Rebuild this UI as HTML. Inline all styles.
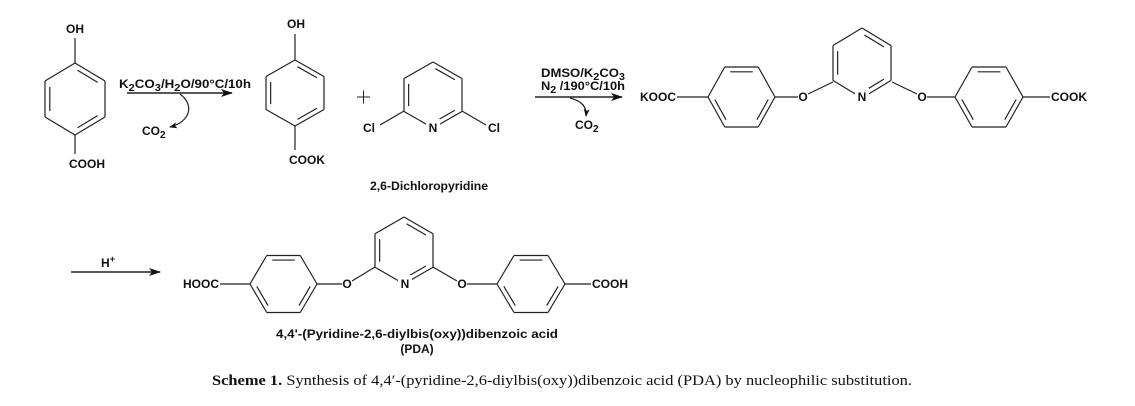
<!DOCTYPE html>
<html><head><meta charset="utf-8"><style>
html,body{margin:0;padding:0;background:#fff;}
svg{display:block;}
text{font-family:"Liberation Sans",sans-serif;font-weight:bold;font-size:12px;fill:#111;}
.c{font-family:"Liberation Serif",serif;font-weight:normal;font-size:15px;}
</style></head><body>
<svg id="s" width="1135" height="406" viewBox="0 0 1135 406" xmlns="http://www.w3.org/2000/svg">
<defs><marker id="ah" markerWidth="12" markerHeight="8" refX="11" refY="4" orient="auto" markerUnits="userSpaceOnUse"><path d="M0,0 L12,4 L0,8 L3,4 z" fill="#111"/></marker>
<marker id="ah2" markerWidth="8" markerHeight="6" refX="7" refY="3" orient="auto" markerUnits="userSpaceOnUse"><path d="M0,0 L8,3 L0,6 L2,3 z" fill="#111"/></marker></defs>
<g id="g" stroke="#222" stroke-width="1.2" fill="none"></g>
<g stroke="#222" stroke-width="1.2" fill="none">
<line x1="75" y1="63" x2="75" y2="38"/><line x1="75" y1="135" x2="75" y2="154"/>
<line x1="295" y1="60" x2="295" y2="34"/><line x1="295" y1="126" x2="295" y2="150"/>
<line x1="404" y1="111" x2="380" y2="125"/><line x1="462" y1="111" x2="486" y2="125"/>
<line x1="677" y1="97" x2="708" y2="97"/><line x1="775" y1="97" x2="798" y2="97"/><line x1="808" y1="94" x2="833" y2="82"/>
<line x1="892" y1="82" x2="917" y2="94"/><line x1="927" y1="97" x2="955" y2="97"/><line x1="1023" y1="97" x2="1050" y2="97"/>
<line x1="220" y1="284" x2="250" y2="284"/><line x1="317" y1="284" x2="342" y2="284"/><line x1="352" y1="281" x2="375" y2="267"/>
<line x1="433" y1="267" x2="457" y2="281"/><line x1="467" y1="284" x2="497" y2="284"/><line x1="565" y1="284" x2="591" y2="284"/>
<line x1="127" y1="93" x2="232" y2="93" stroke-width="1.6" marker-end="url(#ah)"/>
<path d="M180,94 C195,105 190,122 170,127" marker-end="url(#ah2)"/>
<line x1="535" y1="97" x2="622" y2="97" stroke-width="1.6" marker-end="url(#ah)"/>
<path d="M570,98 C582,101 587,107 586,116" marker-end="url(#ah2)"/>
<line x1="71" y1="272" x2="160" y2="272" stroke-width="1.6" marker-end="url(#ah)"/>
<line x1="357" y1="97" x2="370" y2="97" stroke-width="1"/><line x1="363.5" y1="90.5" x2="363.5" y2="103.5" stroke-width="1"/>
</g>
<text x="75" y="33" text-anchor="middle" font-size="13">OH</text>
<text x="87" y="168" text-anchor="middle" font-size="13">COOH</text>
<text x="119" y="88" font-size="15" textLength="132" lengthAdjust="spacingAndGlyphs">K<tspan font-size="10" dy="3">2</tspan><tspan dy="-3">CO</tspan><tspan font-size="10" dy="3">3</tspan><tspan dy="-3">/H</tspan><tspan font-size="10" dy="3">2</tspan><tspan dy="-3">O/90°C/10h</tspan></text>
<text x="142" y="135" font-size="14.5">CO<tspan font-size="10" dy="3">2</tspan></text>
<text x="296" y="28" text-anchor="middle" font-size="13">OH</text>
<text x="307" y="164" text-anchor="middle" font-size="13">COOK</text>
<text x="369" y="132" text-anchor="middle" font-size="11.5">Cl</text>
<rect x="426" y="119" width="14" height="13" fill="#fff"/>
<text x="433" y="132" text-anchor="middle" font-size="12">N</text>
<text x="494" y="132" text-anchor="middle" font-size="11.5">Cl</text>
<text x="370" y="190" font-size="14.5" textLength="118" lengthAdjust="spacingAndGlyphs">2,6-Dichloropyridine</text>
<text x="541" y="77" font-size="14" textLength="84" lengthAdjust="spacingAndGlyphs">DMSO/K<tspan font-size="10" dy="3">2</tspan><tspan dy="-3">CO</tspan><tspan font-size="10" dy="3">3</tspan></text>
<text x="541" y="90" font-size="14" textLength="84" lengthAdjust="spacingAndGlyphs">N<tspan font-size="10" dy="3">2</tspan><tspan dy="-3"> /190°C/10h</tspan></text>
<text x="575" y="129" font-size="14.5">CO<tspan font-size="10" dy="3">2</tspan></text>
<text x="676" y="101" text-anchor="end" font-size="12">KOOC</text>
<text x="803" y="101" text-anchor="middle" font-size="12.5">O</text>
<rect x="855" y="88" width="14" height="13" fill="#fff"/>
<text x="862" y="101" text-anchor="middle" font-size="12.5">N</text>
<text x="922" y="101" text-anchor="middle" font-size="12.5">O</text>
<text x="1051" y="101" font-size="12">COOK</text>
<text x="108" y="267" text-anchor="middle" font-size="14">H<tspan font-size="9" dy="-5">+</tspan></text>
<text x="219" y="288" text-anchor="end" font-size="12">HOOC</text>
<text x="347" y="288" text-anchor="middle" font-size="12.5">O</text>
<rect x="398" y="275" width="14" height="13" fill="#fff"/>
<text x="405" y="288" text-anchor="middle" font-size="12.5">N</text>
<text x="462" y="288" text-anchor="middle" font-size="12.5">O</text>
<text x="592" y="288" font-size="12">COOH</text>
<text x="276" y="338" font-size="16" textLength="282" lengthAdjust="spacingAndGlyphs">4,4'-(Pyridine-2,6-diylbis(oxy))dibenzoic acid</text>
<text x="417" y="353" text-anchor="middle" font-size="16">(PDA)</text>
<text class="c" x="212" y="385" textLength="700" lengthAdjust="spacingAndGlyphs"><tspan font-weight="bold">Scheme 1.</tspan> Synthesis of 4,4′-(pyridine-2,6-diylbis(oxy))dibenzoic acid (PDA) by nucleophilic substitution.</text>
</svg>
<script>
var g=document.getElementById('g'),NS='http://www.w3.org/2000/svg';
function L(a,b,c,d){var l=document.createElementNS(NS,'line');l.setAttribute('x1',a);l.setAttribute('y1',b);l.setAttribute('x2',c);l.setAttribute('y2',d);g.appendChild(l);}
function ring(v,dbl){var cx=0,cy=0;v.forEach(function(p){cx+=p[0];cy+=p[1]});cx/=6;cy/=6;
for(var i=0;i<6;i++){var a=v[i],b=v[(i+1)%6];
L(a[0],a[1],b[0],b[1]);
if(dbl.indexOf(i)>=0){var f=0.16;var p=[a[0]+(cx-a[0])*f,a[1]+(cy-a[1])*f],q=[b[0]+(cx-b[0])*f,b[1]+(cy-b[1])*f];
var t=0.1;L(p[0]+(q[0]-p[0])*t,p[1]+(q[1]-p[1])*t,q[0]+(p[0]-q[0])*t,q[1]+(p[1]-q[1])*t);}}}
function pt(cx,cy,rx,ry){return [[cx,cy-ry],[cx+rx,cy-ry/2],[cx+rx,cy+ry/2],[cx,cy+ry],[cx-rx,cy+ry/2],[cx-rx,cy-ry/2]];}
function fl(cx,cy,rx,ry){return [[cx-rx,cy],[cx-rx/2,cy-ry],[cx+rx/2,cy-ry],[cx+rx,cy],[cx+rx/2,cy+ry],[cx-rx/2,cy+ry]];}
ring(pt(75,99,30,36),[0,2,4]);
ring(pt(295,93,29,33),[0,2,4]);
ring(pt(433,95,29,33),[0,2,4]);
ring(fl(741.5,97,33.5,30),[1,3,5]);
ring(pt(862,63,29,35),[0,2,4]);
ring(fl(989,97,34,30),[1,3,5]);
ring(fl(283.5,284,33.5,28.5),[1,3,5]);
ring(pt(404,250.5,29,33.5),[0,2,4]);
ring(fl(531,284,34,28.5),[1,3,5]);
</script>
</body></html>
